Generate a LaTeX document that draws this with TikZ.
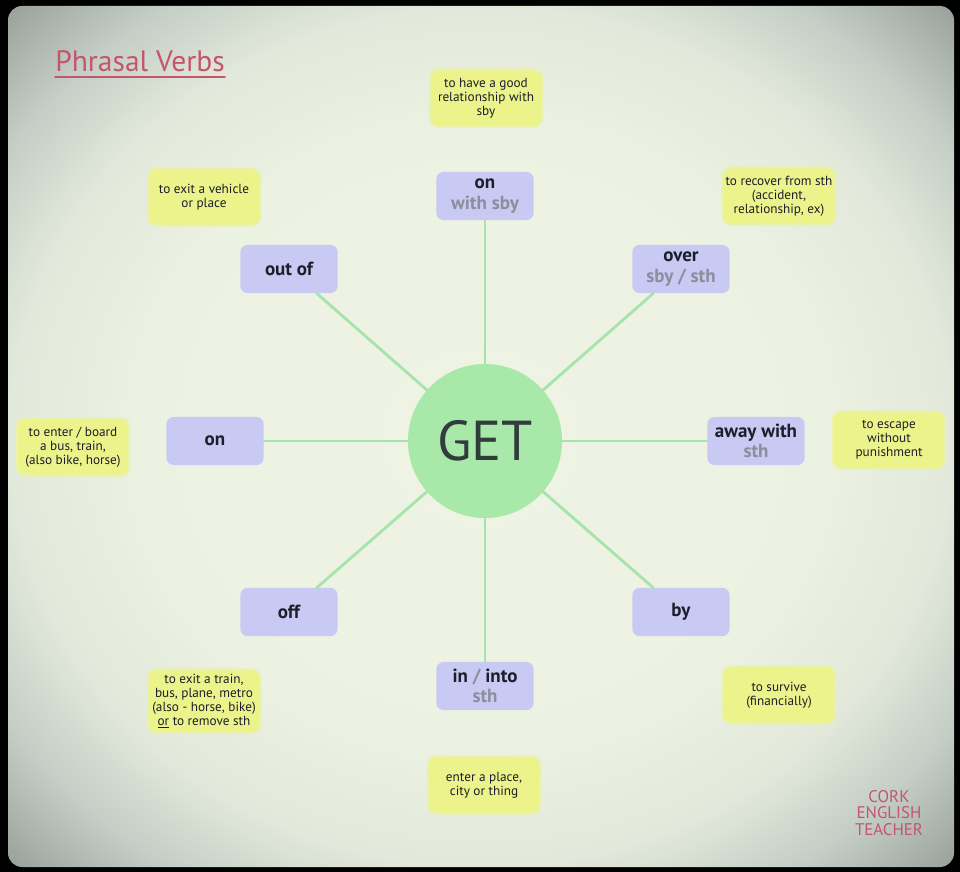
\documentclass[tikz,border=0pt]{standalone}
\usepackage{fontspec}
\setmainfont{PT Sans}
\usepackage{xcolor}
\usepackage{tikz}
\usetikzlibrary{positioning}
\definecolor{pvPaper}{HTML}{EEF3E3}
\definecolor{pvEdge}{HTML}{C4CEC6}
\definecolor{pvInk}{HTML}{1C1E2A}
\definecolor{pvMuted}{HTML}{8C8E9C}
\definecolor{pvVerb}{HTML}{C8CAF4}
\definecolor{pvNote}{HTML}{ECF38A}
\definecolor{pvGlow}{HTML}{EAF1A8}
\definecolor{pvHub}{HTML}{A8E8A8}
\definecolor{pvLink}{HTML}{A6E4AE}
\definecolor{pvRed}{HTML}{C4566C}
\pgfdeclareradialshading{pv paper}{\pgfpoint{0bp}{0bp}}{%
  color(0bp)=(pvPaper); color(18bp)=(pvPaper!96!pvEdge);
  color(25bp)=(pvPaper!70!pvEdge); color(30bp)=(pvEdge);
  color(36bp)=(pvEdge!75!black); color(50bp)=(pvEdge!55!black)}
\tikzset{
  pv diagram/.style={text=pvInk, line cap=round, line join=round},
  pv verb/.style={fill=pvVerb, rounded corners=5pt, align=center,
    minimum width=2.43cm, minimum height=1.2cm, inner sep=2pt,
    font=\fontsize{13.5}{14.5}\selectfont\bfseries},
  pv note/.style={fill=pvNote, draw=pvGlow, line width=1.6pt,
    rounded corners=6pt, align=center, inner sep=2pt,
    minimum width=2.8cm, minimum height=1.42cm,
    font=\fontsize{9.4}{10}\selectfont},
  pv hub/.style={circle, fill=pvHub, minimum size=3.85cm, inner sep=0pt,
    font=\fontsize{40}{42}\selectfont, text=pvInk!85!pvHub},
  pv link/.style={draw=pvLink, line width=2pt},
  pv title/.style={font=\fontsize{21}{23}\selectfont, text=pvRed, inner sep=0pt},
  pv credit/.style={font=\fontsize{12}{11.6}\selectfont, text=pvRed, align=center}
}
\newcommand{\pvsub}[1]{\\{\color{pvMuted}#1}}
\begin{document}
\begin{tikzpicture}[pv diagram,x=0.025cm,y=-0.025cm]
\useasboundingbox (0,0) rectangle (960,872);
% frame and paper
\fill[black] (0,0) rectangle (960,872);
\shade[shading=pv paper, rounded corners=10pt] (8,6) rectangle (954,867);
% title
\node[pv title] (title) at (140,61) {Phrasal Verbs};
\draw[pvRed, line width=1.3pt] ([yshift=-4pt]title.base west) -- ([yshift=-4pt]title.base east);
% hub and verbs
\node[pv hub] (get) at (485,441) {GET};
\node[pv verb] (on) at (485,196) {on\pvsub{with sby}};
\node[pv verb] (over) at (681,269) {over\pvsub{sby / sth}};
\node[pv verb] (away) at (756,441) {away with\pvsub{sth}};
\node[pv verb] (by) at (681,612) {by};
\node[pv verb] (into) at (485,686) {in {\color{pvMuted}/} into\pvsub{sth}};
\node[pv verb] (off) at (289,612) {off};
\node[pv verb] (onleft) at (215,441) {on};
\node[pv verb] (outof) at (289,269) {out of};
\foreach \verb in {on,over,away,by,into,off,onleft,outof}
  \draw[pv link] (get) -- (\verb);
% meanings
\node[pv note] (onmean) at (486,98) {to have a good\\relationship with\\sby};
\node[pv note] (outofmean) at (204,197) {to exit a vehicle\\or place};
\node[pv note] (overmean) at (779,196) {to recover from sth\\(accident,\\relationship, ex)};
\node[pv note] (awaymean) at (889,440) {to escape\\without\\punishment};
\node[pv note] (onleftmean) at (73,447) {to enter / board\\a bus, train,\\(also bike, horse)};
\node[pv note, minimum height=1.58cm] (offmean) at (204,701) {to exit a train,\\bus, plane, metro\\(also - horse, bike)\\\underline{or} to remove sth};
\node[pv note] (bymean) at (779,695) {to survive\\(financially)};
\node[pv note] (intomean) at (484,785) {enter a place,\\city or thing};
% credit
\node[pv credit] (credit) at (889,813) {CORK\\ENGLISH\\TEACHER};
\end{tikzpicture}
\end{document}
